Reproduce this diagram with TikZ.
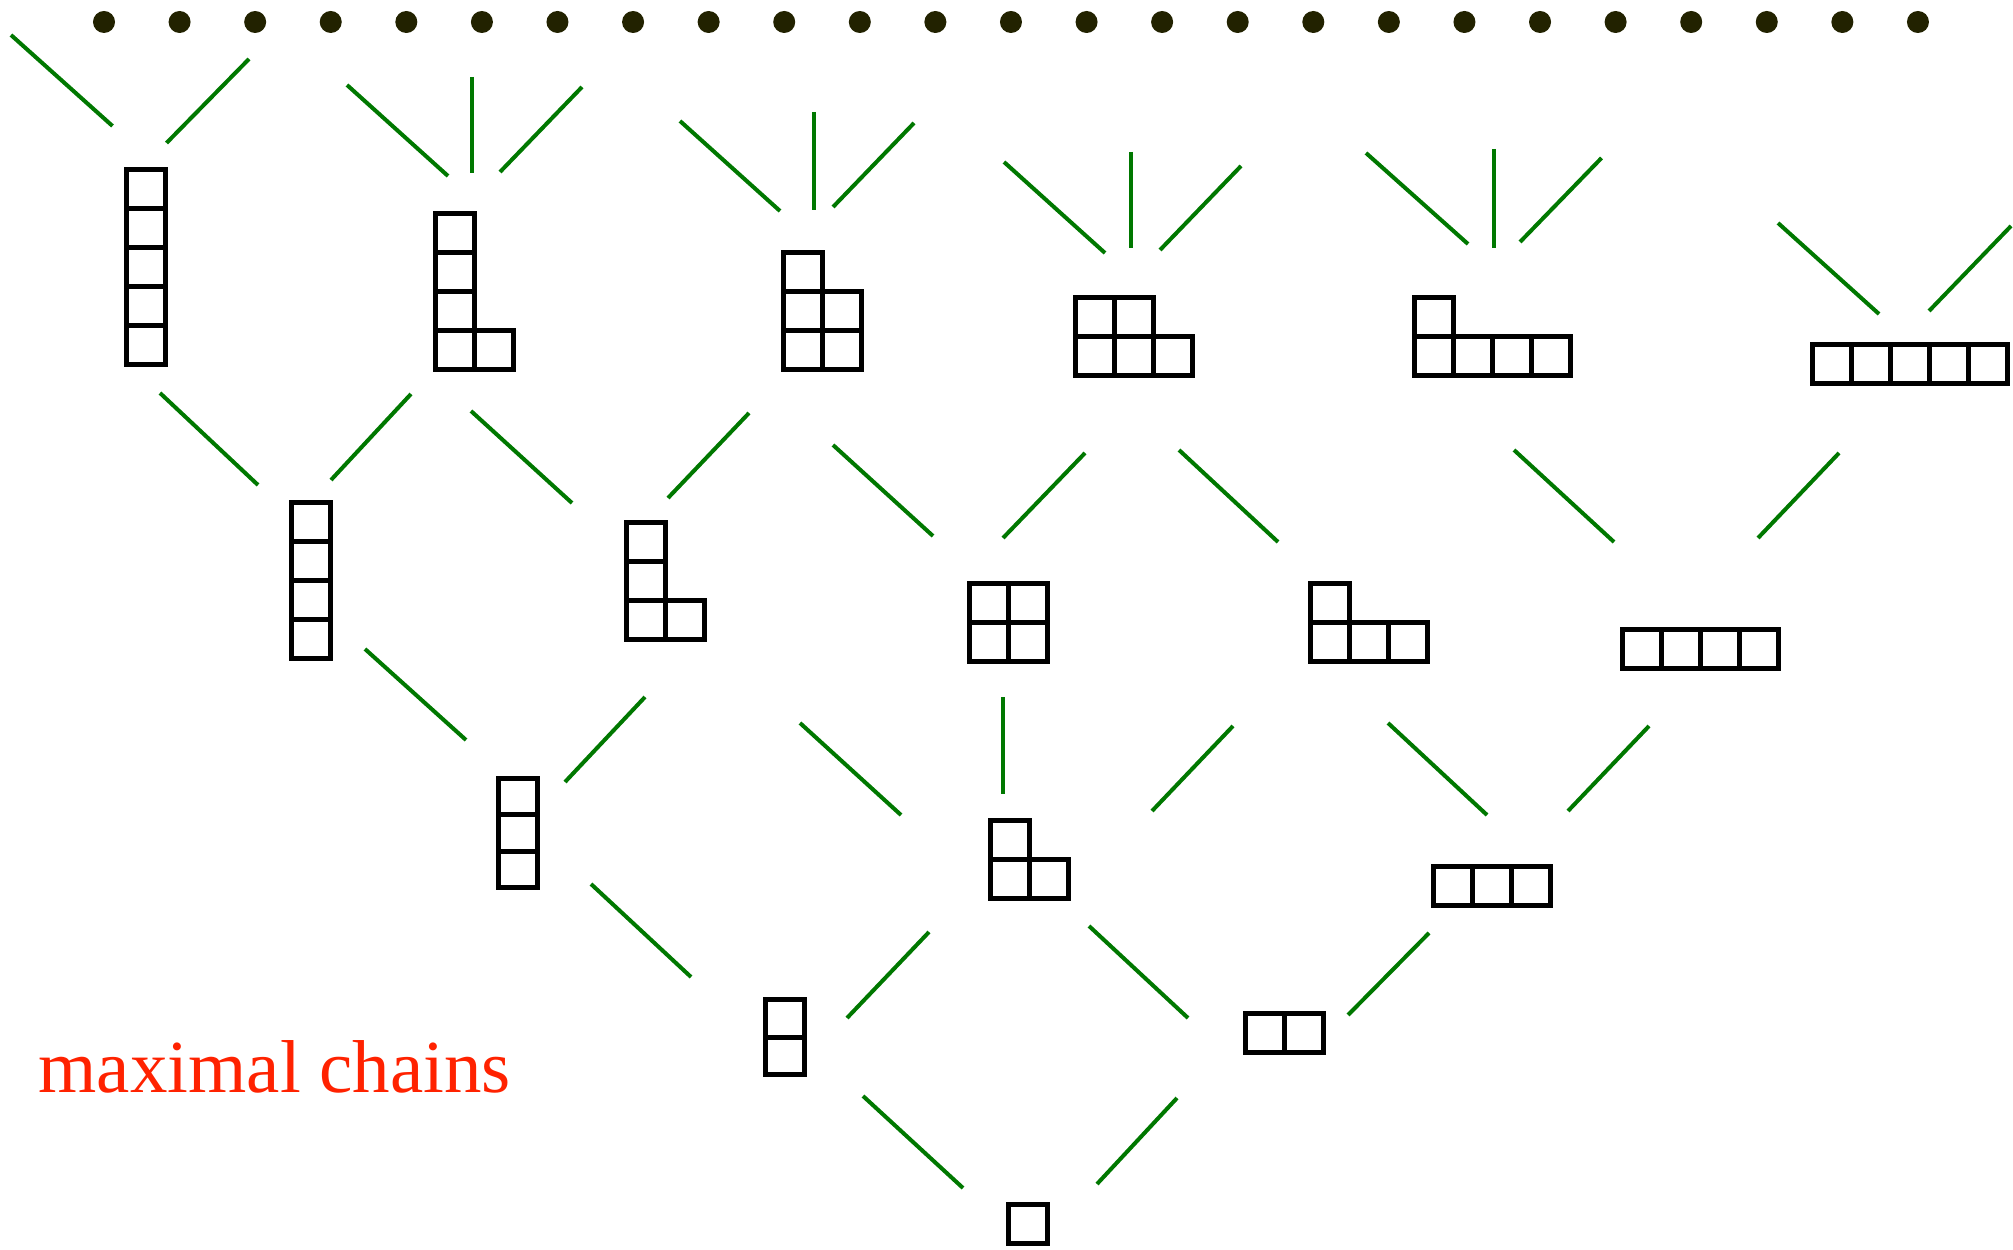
\documentclass[tikz,border=0pt]{standalone}
\usepackage{fontspec}
\setmainfont{Liberation Serif}
\definecolor{edgegreen}{RGB}{0,120,0}
\definecolor{dotcol}{RGB}{34,34,0}
\definecolor{labelred}{RGB}{255,34,0}
\tikzset{
  cellbox/.style={draw=black, line width=1.42pt},
  cover/.style={draw=edgegreen, line width=1.14pt},
  dotmark/.style={fill=dotcol},
}
% \yshape{name}{x}{y}{cell height}{cells col/row}
\newcommand{\yshape}[5]{%
  \coordinate (#1) at (#2,#3);
  \begin{scope}[shift={(#2,#3)}]
    \foreach \cc/\rr in {#5} {\draw[cellbox] (\cc*39,-\rr*#4) rectangle ++(39,-#4);}
  \end{scope}}
\begin{document}
\begin{tikzpicture}[x=0.01cm,y=-0.01cm]
\useasboundingbox (0,0) rectangle (2013,1249);
% dots at the top
\foreach \i in {0,...,24} {\fill[dotmark] ({104+75.58*\i},22) circle[radius=0.11cm];}
% level 5
\yshape{p11111}{126.5}{364.5}{39}{0/0,0/1,0/2,0/3,0/4}
\yshape{p2111}{435.5}{369.5}{39}{0/0,1/0,0/1,0/2,0/3}
\yshape{p221}{783.5}{369.5}{39}{0/0,1/0,0/1,1/1,0/2}
\yshape{p32}{1075.5}{375.5}{39}{0/0,1/0,2/0,0/1,1/1}
\yshape{p41}{1414.5}{375.5}{39}{0/0,1/0,2/0,3/0,0/1}
\yshape{p5}{1812.5}{383.5}{39}{0/0,1/0,2/0,3/0,4/0}
% level 4
\yshape{p1111}{291.5}{658.5}{39}{0/0,0/1,0/2,0/3}
\yshape{p211}{626.5}{639.5}{39}{0/0,1/0,0/1,0/2}
\yshape{p22}{969.5}{661.5}{39}{0/0,1/0,0/1,1/1}
\yshape{p31}{1310.5}{661.5}{39}{0/0,1/0,2/0,0/1}
\yshape{p4}{1622.5}{668.5}{39}{0/0,1/0,2/0,3/0}
% level 3
\yshape{p111}{498.5}{887.5}{36.5}{0/0,0/1,0/2}
\yshape{p21}{990.5}{898.5}{39}{0/0,1/0,0/1}
\yshape{p3}{1433.5}{905.5}{39}{0/0,1/0,2/0}
% level 2
\yshape{p11}{765.5}{1074.5}{37.5}{0/0,0/1}
\yshape{p2}{1245.5}{1052.5}{39}{0/0,1/0}
% level 1
\yshape{p1}{1008.5}{1243.5}{39}{0/0}
% covering segments: level 5 upward
\foreach \ax/\ay/\bx/\by in {
  11/35/112.5/126, 249/59/166.5/143,
  347/85/448/176, 472/77/472/173, 582/87/500/172,
  680/121/780/211, 814/112/814/210, 914/123/833/207,
  1004/162/1105/253, 1131/152/1131/248, 1241/166/1160/250,
  1366/153/1468/244, 1494/149/1494/248, 1601.5/158/1520/242,
  1778/223/1879/314, 2011/226/1929/311,
  % level 4 to 5
  160/393/258/485, 411/394/331/480, 471/411/572/503, 749/413/668/498,
  833/445/933/536, 1085/453/1003/538, 1179/450/1278/542,
  1514/450/1614/542, 1839/453/1758/538,
  % level 3 to 4
  365/649/466/740, 645/697/565/782, 800/723/901/815, 1003/697/1003/794,
  1233/726/1152/811, 1388/723/1487/815, 1649/726/1568/811,
  % level 2 to 3
  591/884/691/977, 929/932/847/1018, 1089/926/1188/1018, 1429/933/1348/1015,
  % level 1 to 2
  863/1096/963/1188, 1177/1098/1097/1184}
  {\draw[cover] (\ax,\ay) -- (\bx,\by);}
\node[anchor=base west, inner sep=0pt, text=labelred,
      font=\fontsize{21.3pt}{25pt}\selectfont] (label) at (38,1092) {maximal chains};
\end{tikzpicture}
\end{document}
